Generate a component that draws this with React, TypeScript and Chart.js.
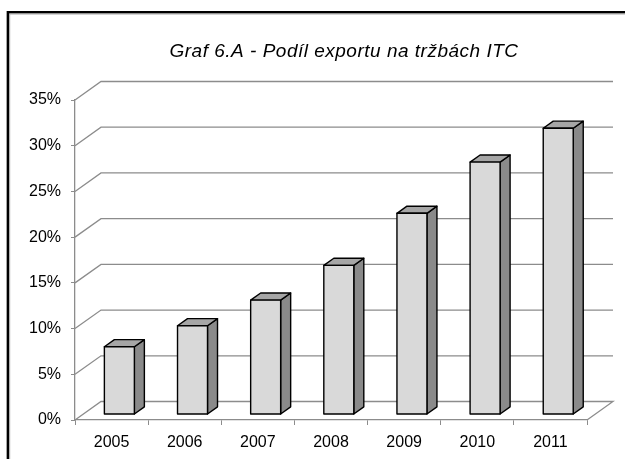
import React, { useEffect, useRef } from "react";
import { Chart, registerables } from "chart.js";

Chart.register(...registerables);

const categories = ["2005", "2006", "2007", "2008", "2009", "2010", "2011"];
const exportShare = [7.4, 9.7, 12.5, 16.3, 22.0, 27.6, 31.3];
const yTickValues = [0, 5, 10, 15, 20, 25, 30, 35];
const titleText = "Graf 6.A - Podíl exportu na tržbách ITC";

const FONT = "'Liberation Sans', Arial, sans-serif";
const DEPTH_X = 26;
const DEPTH_Y = -18.5;
const GRID_COLOR = "#8c8c8c";

const framePlugin = {
  id: "frame",
  beforeDraw(chart: any) {
    const ctx = chart.ctx;
    ctx.save();
    ctx.fillStyle = "#ffffff";
    ctx.fillRect(0, 0, chart.width, chart.height);
    ctx.strokeStyle = "#000000";
    ctx.lineWidth = 2.5;
    ctx.beginPath();
    ctx.moveTo(7.9, chart.height + 5);
    ctx.lineTo(7.9, 12.2);
    ctx.lineTo(chart.width + 5, 12.2);
    ctx.stroke();
    ctx.strokeStyle = "#a8a8a8";
    ctx.lineWidth = 1;
    ctx.beginPath();
    ctx.moveTo(9.7, chart.height + 5);
    ctx.lineTo(9.7, 14);
    ctx.lineTo(chart.width + 5, 14);
    ctx.stroke();
    ctx.restore();
  },
};

const titlePlugin = {
  id: "title3d",
  afterDraw(chart: any) {
    const ctx = chart.ctx;
    const { left, right } = chart.chartArea;
    ctx.save();
    ctx.font = `italic 19px ${FONT}`;
    (ctx as any).letterSpacing = "0.5px";
    ctx.fillStyle = "#000000";
    ctx.textAlign = "center";
    ctx.textBaseline = "middle";
    const cx = (left + right + DEPTH_X) / 2;
    ctx.fillText(titleText, cx, 51.5);
    ctx.restore();
  },
};

const wallsPlugin = {
  id: "walls3d",
  beforeDatasetsDraw(chart: any) {
    const ctx = chart.ctx;
    const { left, right } = chart.chartArea;
    const ys = chart.scales.y;
    ctx.save();
    ctx.strokeStyle = GRID_COLOR;
    ctx.lineWidth = 1.3;
    yTickValues.forEach((v) => {
      const y = ys.getPixelForValue(v);
      ctx.beginPath();
      ctx.moveTo(left, y);
      ctx.lineTo(left + DEPTH_X, y + DEPTH_Y);
      ctx.lineTo(right + DEPTH_X, y + DEPTH_Y);
      if (v === 0) ctx.lineTo(right, y);
      ctx.stroke();
    });
    ctx.restore();
  },
};

const bars3dPlugin = {
  id: "bars3d",
  afterDatasetsDraw(chart: any) {
    const ctx = chart.ctx;
    const meta = chart.getDatasetMeta(0);
    const fx = 0.3 * DEPTH_X;
    const fy = 0.3 * DEPTH_Y;
    const bx = 0.385 * DEPTH_X;
    const by = 0.385 * DEPTH_Y;
    ctx.save();
    ctx.lineJoin = "round";
    ctx.strokeStyle = "#000000";
    ctx.lineWidth = 1.4;
    meta.data.forEach((el: any) => {
      const { x, y, base, width } = el.getProps(["x", "y", "base", "width"], true);
      const l = x - width / 2 + fx;
      const r = x + width / 2 + fx;
      const t = y + fy;
      const b = base + fy;
      ctx.fillStyle = "#8a8a8a";
      ctx.beginPath();
      ctx.moveTo(r, b);
      ctx.lineTo(r + bx, b + by);
      ctx.lineTo(r + bx, t + by);
      ctx.lineTo(r, t);
      ctx.closePath();
      ctx.fill();
      ctx.stroke();
      ctx.fillStyle = "#a6a6a6";
      ctx.beginPath();
      ctx.moveTo(l, t);
      ctx.lineTo(l + bx, t + by);
      ctx.lineTo(r + bx, t + by);
      ctx.lineTo(r, t);
      ctx.closePath();
      ctx.fill();
      ctx.stroke();
      ctx.fillStyle = "#d9d9d9";
      ctx.beginPath();
      ctx.rect(l, t, r - l, b - t);
      ctx.fill();
      ctx.stroke();
    });
    ctx.restore();
  },
};

export default function App() {
  const canvasRef = useRef<HTMLCanvasElement | null>(null);

  useEffect(() => {
    const canvas = canvasRef.current;
    if (!canvas) return;
    const chart = new Chart(canvas, {
      type: "bar",
      data: {
        labels: categories,
        datasets: [
          {
            label: "Podíl exportu",
            data: exportShare,
            backgroundColor: "rgba(0,0,0,0)",
            borderWidth: 0,
            barPercentage: 0.41,
            categoryPercentage: 1,
          },
        ],
      },
      options: {
        responsive: false,
        maintainAspectRatio: false,
        animation: false,
        devicePixelRatio: 1,
        layout: { padding: { left: 0, right: 38, top: 100, bottom: 0 } },
        plugins: {
          legend: { display: false },
          tooltip: { enabled: false },
          title: { display: false },
        },
        scales: {
          x: {
            grid: {
              display: true,
              drawOnChartArea: false,
              drawTicks: true,
              tickLength: 5,
              color: GRID_COLOR,
              offset: true,
            },
            border: { display: true, color: GRID_COLOR, width: 1.3 },
            ticks: {
              color: "#000000",
              font: { family: FONT, size: 16 },
              padding: 8,
              maxRotation: 0,
            },
            afterFit: (s: any) => {
              s.height = 39;
            },
          },
          y: {
            min: 0,
            max: 35,
            grid: {
              display: true,
              drawOnChartArea: false,
              drawTicks: true,
              tickLength: 4,
              color: GRID_COLOR,
            },
            border: { display: true, color: GRID_COLOR, width: 1.3 },
            ticks: {
              stepSize: 5,
              color: "#000000",
              font: { family: FONT, size: 16 },
              padding: 10,
              callback: (v: any) => `${v}%`,
            },
            afterFit: (s: any) => {
              s.width = 75;
            },
          },
        },
      },
      plugins: [framePlugin, wallsPlugin, bars3dPlugin, titlePlugin],
    });
    return () => chart.destroy();
  }, []);

  return (
    <div style={{ position: "absolute", left: 0, top: 0, width: 625, height: 459 }}>
      <canvas ref={canvasRef} width={625} height={459} style={{ display: "block" }} />
    </div>
  );
}
